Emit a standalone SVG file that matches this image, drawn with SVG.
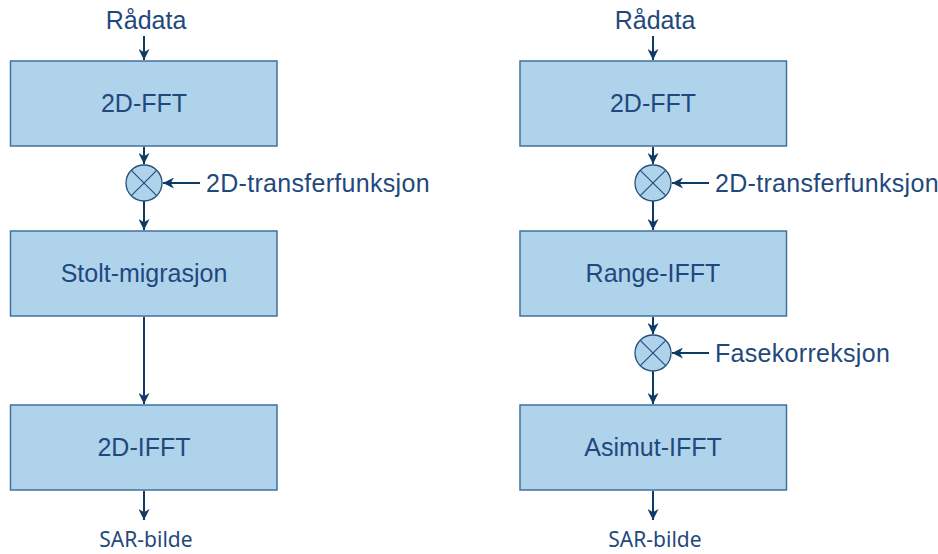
<svg xmlns="http://www.w3.org/2000/svg" width="938" height="554" viewBox="0 0 938 554">
<defs>
<marker id="ah" viewBox="0 0 10 10" refX="10" refY="5" markerWidth="11" markerHeight="11" markerUnits="userSpaceOnUse" orient="auto">
<path d="M0,0 L10,5 L0,10 L3,5 Z" fill="#0D3B66"/>
</marker>
<style>
.box{fill:#AFD3EB;stroke:#41719C;stroke-width:1.5}
.mul{fill:#AFD3EB;stroke:#24507A;stroke-width:1.3}
.x{stroke:#24507A;stroke-width:1.2}
.t{font-family:"Liberation Sans",Arial,sans-serif;font-size:25px;fill:#1F497D}
.w{letter-spacing:0.3px}
.s{font-family:"Noto Sans","Open Sans",sans-serif;font-size:21px;fill:#1F497D}
.c{stroke:#0D3B66;stroke-width:2;fill:none;marker-end:url(#ah)}
</style>
</defs>
<g id="connectors">
<line class="c" x1="144" y1="36" x2="144" y2="60"/>
<line class="c" x1="144" y1="147" x2="144" y2="164"/>
<line class="c" x1="200" y1="183" x2="163" y2="183"/>
<line class="c" x1="144" y1="201" x2="144" y2="230"/>
<line class="c" x1="144" y1="317" x2="144" y2="404"/>
<line class="c" x1="144" y1="491" x2="144" y2="520"/>
<line class="c" x1="653" y1="36" x2="653" y2="60"/>
<line class="c" x1="653" y1="147" x2="653" y2="164"/>
<line class="c" x1="709" y1="183" x2="672" y2="183"/>
<line class="c" x1="653" y1="201" x2="653" y2="230"/>
<line class="c" x1="653" y1="317" x2="653" y2="334"/>
<line class="c" x1="709" y1="353" x2="672" y2="353"/>
<line class="c" x1="653" y1="371" x2="653" y2="404"/>
<line class="c" x1="653" y1="491" x2="653" y2="520"/>
</g>
<g id="in-left"><text class="t" x="146" y="29" text-anchor="middle">Rådata</text></g>
<g id="in-right"><text class="t" x="655" y="29" text-anchor="middle">Rådata</text></g>
<g id="fft-left"><rect class="box" x="10.5" y="61" width="266.5" height="85"/><text class="t" x="144" y="112" text-anchor="middle">2D-FFT</text></g>
<g id="mul-left"><circle class="mul" cx="144" cy="183" r="18"/><line class="x" x1="131.3" y1="170.3" x2="156.7" y2="195.7"/><line class="x" x1="156.7" y1="170.3" x2="131.3" y2="195.7"/><text class="t w" x="206" y="192">2D-transferfunksjon</text></g>
<g id="stolt"><rect class="box" x="10.5" y="231" width="266.5" height="85"/><text class="t" x="144" y="282" text-anchor="middle">Stolt-migrasjon</text></g>
<g id="ifft-left"><rect class="box" x="10.5" y="405" width="266.5" height="85"/><text class="t" x="144" y="456" text-anchor="middle">2D-IFFT</text></g>
<g id="out-left"><text class="s" x="146" y="547" text-anchor="middle">SAR-bilde</text></g>
<g id="fft-right"><rect class="box" x="520" y="61" width="266.5" height="85"/><text class="t" x="653" y="112" text-anchor="middle">2D-FFT</text></g>
<g id="mul-right1"><circle class="mul" cx="653" cy="183" r="18"/><line class="x" x1="640.3" y1="170.3" x2="665.7" y2="195.7"/><line class="x" x1="665.7" y1="170.3" x2="640.3" y2="195.7"/><text class="t w" x="715" y="192">2D-transferfunksjon</text></g>
<g id="range"><rect class="box" x="520" y="231" width="266.5" height="85"/><text class="t" x="653" y="282" text-anchor="middle">Range-IFFT</text></g>
<g id="mul-right2"><circle class="mul" cx="653" cy="353" r="18"/><line class="x" x1="640.3" y1="340.3" x2="665.7" y2="365.7"/><line class="x" x1="665.7" y1="340.3" x2="640.3" y2="365.7"/><text class="t w" x="715" y="362">Fasekorreksjon</text></g>
<g id="asimut"><rect class="box" x="520" y="405" width="266.5" height="85"/><text class="t" x="653" y="456" text-anchor="middle">Asimut-IFFT</text></g>
<g id="out-right"><text class="s" x="655" y="547" text-anchor="middle">SAR-bilde</text></g>
</svg>
